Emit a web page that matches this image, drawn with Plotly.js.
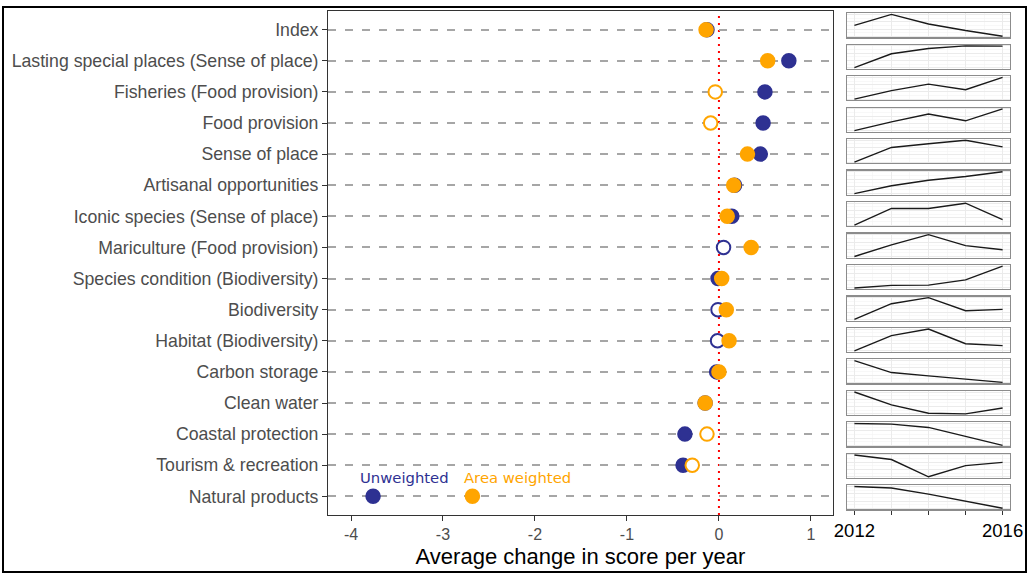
<!DOCTYPE html>
<html>
<head>
<meta charset="utf-8">
<script src="https://cdn.plot.ly/plotly-3.0.1.min.js"></script>
<style>
  html, body { margin: 0; padding: 0; background: #fff; }
  #frame { position: absolute; left: 2px; top: 6px; width: 1021px; height: 563px; border: 2px solid #000; pointer-events: none; }
  #chart { position: absolute; left: 0; top: 0; width: 1029px; height: 574px; }
</style>
</head>
<body>
<div id="chart"></div>
<div id="frame"></div>
<script>
// ---------- data ----------
const categories = [
  "Index",
  "Lasting special places (Sense of place)",
  "Fisheries (Food provision)",
  "Food provision",
  "Sense of place",
  "Artisanal opportunities",
  "Iconic species (Sense of place)",
  "Mariculture (Food provision)",
  "Species condition (Biodiversity)",
  "Biodiversity",
  "Habitat (Biodiversity)",
  "Carbon storage",
  "Clean water",
  "Coastal protection",
  "Tourism & recreation",
  "Natural products"
];
const unweighted   = [-0.13, 0.76, 0.50, 0.48, 0.45, 0.17, 0.14, 0.05, -0.01, -0.01, -0.015, -0.025, -0.15, -0.37, -0.39, -3.76];
const areaWeighted = [-0.14, 0.53, -0.04, -0.09, 0.31, 0.16, 0.09, 0.35, 0.03, 0.08, 0.11, 0.00, -0.15, -0.13, -0.29, -2.68];
const unweightedSignificant   = [true, true, true, true, true, true, true, false, true, false, false, true, true, true, true, true];
const areaWeightedSignificant = [true, true, false, false, true, true, true, true, true, true, true, true, true, false, false, true];

const xTickValues = [-4, -3, -2, -1, 0, 1];
const xTickLabels = ["-4", "-3", "-2", "-1", "0", "1"];

const years = [2012, 2013, 2014, 2015, 2016];
const yearTickLabels = ["2012", "", "", "", "2016"];
// relative trend of each score 2012-2016 (scaled within each panel)
const trendValues = [
  [0.50, 1.00, 0.56, 0.26, 0.00],
  [0.00, 0.64, 0.88, 1.00, 0.99],
  [0.00, 0.39, 0.69, 0.43, 1.00],
  [0.00, 0.40, 0.76, 0.45, 1.00],
  [0.00, 0.67, 0.84, 1.00, 0.70],
  [0.00, 0.36, 0.61, 0.78, 1.00],
  [0.00, 0.76, 0.76, 1.00, 0.25],
  [0.00, 0.53, 1.00, 0.50, 0.31],
  [0.00, 0.12, 0.13, 0.37, 1.00],
  [0.00, 0.72, 1.00, 0.40, 0.46],
  [0.00, 0.70, 1.00, 0.33, 0.24],
  [1.00, 0.45, 0.30, 0.16, 0.00],
  [1.00, 0.41, 0.03, 0.00, 0.27],
  [1.00, 0.97, 0.82, 0.40, 0.00],
  [1.00, 0.79, 0.00, 0.51, 0.66],
  [1.00, 0.93, 0.65, 0.32, 0.00]
];

// ---------- styling ----------
const NAVY = "#2e3192";
const ORANGE = "#ffa500";
const FONT = "Liberation Sans, Arial, sans-serif";

const W = 1029, H = 574;
const M = { l: 328, r: 19, t: 11, b: 59 };
const PW = W - M.l - M.r, PH = H - M.t - M.b;
const mainRight = 833;
const sparkLeft = 847, sparkRight = 1010;
const sparkTop0 = 13.3, sparkPitch = 31.47, sparkH = 24;

const traces = [];
traces.push({
  type: "scatter", mode: "markers", name: "Unweighted",
  x: unweighted, y: categories, xaxis: "x", yaxis: "y",
  marker: {
    size: 13.5, symbol: "circle",
    color: unweightedSignificant.map(s => s ? NAVY : "#ffffff"),
    line: { color: NAVY, width: 2 }
  },
  hoverinfo: "x+y"
});
traces.push({
  type: "scatter", mode: "markers", name: "Area weighted",
  x: areaWeighted, y: categories, xaxis: "x", yaxis: "y",
  marker: {
    size: 13.5, symbol: "circle",
    color: areaWeightedSignificant.map(s => s ? ORANGE : "#ffffff"),
    line: { color: ORANGE, width: 2 }
  },
  hoverinfo: "x+y"
});

const layout = {
  width: W, height: H,
  margin: M,
  paper_bgcolor: "#ffffff", plot_bgcolor: "#ffffff",
  showlegend: false,
  font: { family: FONT, color: "#4d4d4d" },
  xaxis: {
    domain: [0, (mainRight - M.l) / PW],
    range: [-4.25, 1.24],
    tickvals: xTickValues, ticktext: xTickLabels,
    ticks: "outside", ticklen: 5, tickcolor: "#333", tickwidth: 1,
    tickfont: { size: 16, color: "#4d4d4d", family: FONT },
    showgrid: false, zeroline: false,
    showline: true, mirror: true, linecolor: "#333", linewidth: 1,
    title: { text: "Average change in score per year", font: { size: 22, color: "#000", family: FONT }, standoff: 6 },
    anchor: "y"
  },
  yaxis: {
    type: "category",
    categoryorder: "array", categoryarray: categories,
    range: [15.6, -0.6],
    ticks: "outside", ticklen: 5, tickcolor: "#333", tickwidth: 1,
    tickfont: { size: 17.7, color: "#4d4d4d", family: FONT },
    showgrid: true, gridcolor: "#a6a6a6", gridwidth: 2, griddash: "8px,9px",
    zeroline: false,
    showline: true, mirror: true, linecolor: "#333", linewidth: 1,
    anchor: "x"
  },
  shapes: [{
    type: "line", xref: "x", yref: "paper",
    x0: 0, x1: 0, y0: 0, y1: 1,
    line: { color: "#ff0000", width: 2, dash: "2px,5px" },
    layer: "below"
  }],
  annotations: [
    { x: -3.42, y: 14.4, xref: "x", yref: "y", text: "Unweighted", showarrow: false,
      font: { size: 14.8, color: NAVY, family: "DejaVu Sans, sans-serif" } },
    { x: -2.19, y: 14.4, xref: "x", yref: "y", text: "Area weighted", showarrow: false,
      font: { size: 14.8, color: ORANGE, family: "DejaVu Sans, sans-serif" } }
  ]
};

const sxd = [(sparkLeft - M.l) / PW, (sparkRight - M.l) / PW];
trendValues.forEach((vals, i) => {
  const n = i + 2;
  const top = sparkTop0 + i * sparkPitch;
  const bottom = top + sparkH;
  const yd = [1 - (bottom - M.t) / PH, 1 - (top - M.t) / PH];
  const isLast = i === trendValues.length - 1;
  traces.push({
    type: "scatter", mode: "lines", name: categories[i],
    x: years, y: vals, xaxis: "x" + n, yaxis: "y" + n,
    line: { color: "#1a1a1a", width: 1.4 },
    hoverinfo: "x+y"
  });
  layout["xaxis" + n] = {
    domain: sxd, anchor: "y" + n,
    range: [2011.8, 2016.2],
    tickvals: years, ticktext: yearTickLabels,
    showticklabels: isLast,
    ticks: isLast ? "outside" : "", ticklen: 4, tickcolor: "#333",
    tickfont: { size: 18.5, color: "#000", family: FONT },
    showgrid: true, gridcolor: "#ebebeb", gridwidth: 1,
    minor: { dtick: 0.5, showgrid: true, gridcolor: "#f4f4f4", gridwidth: 0.6 },
    zeroline: false,
    showline: true, mirror: true, linecolor: "#8c8c8c", linewidth: 1.2
  };
  layout["yaxis" + n] = {
    domain: yd, anchor: "x" + n,
    range: [-0.05, 1.05],
    showticklabels: false, ticks: "",
    tickvals: [0, 0.33, 0.66, 1.0],
    showgrid: true, gridcolor: "#ebebeb", gridwidth: 1,
    minor: { tickvals: [0.165, 0.5, 0.83], showgrid: true, gridcolor: "#f4f4f4", gridwidth: 0.6 },
    zeroline: false,
    showline: true, mirror: true, linecolor: "#8c8c8c", linewidth: 1.2
  };
});

Plotly.newPlot("chart", traces, layout, { displayModeBar: false, staticPlot: true });
</script>
</body>
</html>
